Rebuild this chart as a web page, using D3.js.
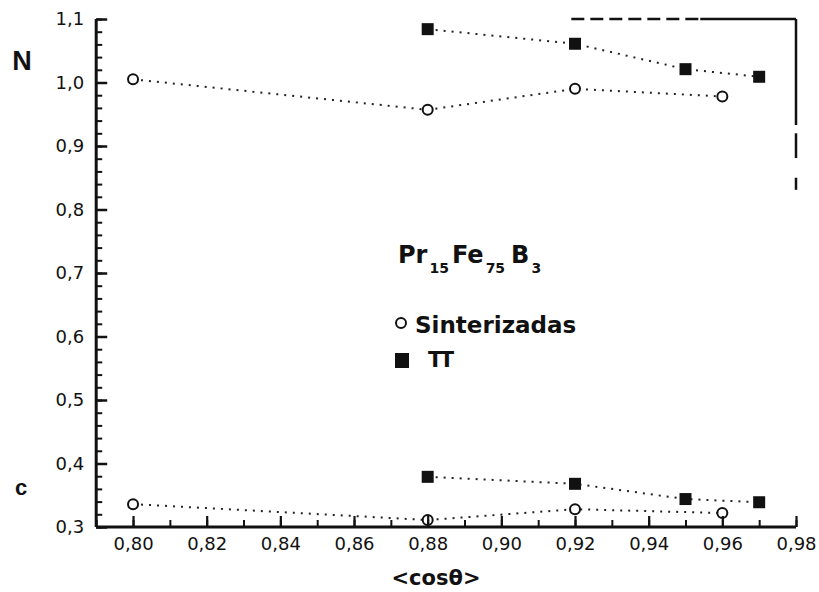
<!DOCTYPE html>
<html>
<head>
<meta charset="utf-8">
<script src="https://cdn.jsdelivr.net/npm/d3@7"></script>
<style>
  html, body { margin: 0; padding: 0; background: #fff; }
  svg { display: block; font-family: "DejaVu Sans", Arial, sans-serif; }
</style>
</head>
<body>
<svg id="chart" width="819" height="592"></svg>
<script>
// cos(theta) values for each sample set
const xSint = [0.80, 0.88, 0.92, 0.96];
const xTT = [0.88, 0.92, 0.95, 0.97];

// N (upper curves) and c (lower curves)
const nSint = [1.005, 0.957, 0.990, 0.978];
const nTT = [1.084, 1.061, 1.021, 1.009];
const cSint = [0.336, 0.311, 0.328, 0.322];
const cTT = [0.379, 0.368, 0.344, 0.339];

const xMajorTicks = [0.80, 0.82, 0.84, 0.86, 0.88, 0.90, 0.92, 0.94, 0.96, 0.98];
const yMajorTicks = [0.3, 0.4, 0.5, 0.6, 0.7, 0.8, 0.9, 1.0, 1.1];

const INK = "#111";
const svg = d3.select("#chart");
const x = d3.scaleLinear().domain([0.79, 0.98]).range([96.2, 796]);
const y = d3.scaleLinear().domain([0.3, 1.1]).range([527, 19]);

const comma = f => v => d3.format(f)(v).replace(".", ",");

function styleAxis(g, width) {
  g.selectAll("line").style("stroke", INK).style("stroke-width", width);
  g.selectAll("path").style("stroke", INK).style("stroke-width", 3);
  g.selectAll("text").style("font-family", "'DejaVu Sans', Arial, sans-serif")
    .style("font-size", "18px").style("fill", INK);
}

// dotted connectors
const line = d3.line().x(d => x(d[0])).y(d => y(d[1]));
const series = [
  { xs: xSint, ys: nSint, shape: "circle" },
  { xs: xTT, ys: nTT, shape: "square" },
  { xs: xSint, ys: cSint, shape: "circle" },
  { xs: xTT, ys: cTT, shape: "square" }
];
series.forEach(s => {
  const pts = s.xs.map((v, i) => [v, s.ys[i]]);
  svg.append("path").attr("d", line(pts))
    .style("fill", "none").style("stroke", "#222").style("stroke-width", 2)
    .style("stroke-dasharray", "2,6");
});

// markers
series.forEach(s => {
  const pts = s.xs.map((v, i) => [v, s.ys[i]]);
  if (s.shape === "circle") {
    svg.append("g").selectAll("circle").data(pts).join("circle")
      .attr("cx", d => x(d[0])).attr("cy", d => y(d[1])).attr("r", 5)
      .style("fill", "#fff").style("stroke", INK).style("stroke-width", 2);
  } else {
    svg.append("g").selectAll("rect").data(pts).join("rect")
      .attr("x", d => x(d[0]) - 6).attr("y", d => y(d[1]) - 6)
      .attr("width", 12).attr("height", 12).style("fill", INK);
  }
});

// minor ticks every 0.01 on x and 0.02 on y
const xMinor = d3.range(0.79, 0.9801, 0.01).map(v => +v.toFixed(2));
const yMinor = d3.range(0.3, 1.1001, 0.02).map(v => +v.toFixed(2));

svg.append("g").attr("transform", `translate(0,${y(0.3)})`)
  .call(d3.axisBottom(x).tickValues(xMinor).tickSize(-7).tickFormat(""))
  .call(g => g.select(".domain").remove())
  .call(g => styleAxis(g, 2));
svg.append("g").attr("transform", `translate(${x(0.79)},0)`)
  .call(d3.axisLeft(y).tickValues(yMinor).tickSize(-6).tickFormat(""))
  .call(g => g.select(".domain").remove())
  .call(g => styleAxis(g, 2));

// major ticks and labels
svg.append("g").attr("transform", `translate(0,${y(0.3)})`)
  .call(d3.axisBottom(x).tickValues(xMajorTicks).tickSize(-11).tickSizeOuter(0)
    .tickPadding(10).tickFormat(comma(".2f")))
  .call(g => g.select(".domain").attr("d", `M${x(0.79)},0H${x(0.98)}`))
  .call(g => styleAxis(g, 2.2));

svg.append("g").attr("transform", `translate(${x(0.79)},0)`)
  .call(d3.axisLeft(y).tickValues(yMajorTicks).tickSize(-11).tickSizeOuter(0)
    .tickPadding(12).tickFormat(comma(".1f")))
  .call(g => g.select(".domain").attr("d", `M0,${y(1.1)}V${y(0.3)}`))
  .call(g => styleAxis(g, 2.5));

// broken frame on top and right
const frame = svg.append("g").style("stroke", INK).style("stroke-width", 2.5).style("fill", "none");
const frameSegs = [
  { x1: 0.919, x2: 0.954, y1: 1.1, y2: 1.1, dash: "13,6" },
  { x1: 0.954, x2: 0.98, y1: 1.1, y2: 1.1 },
  { x1: 0.98, x2: 0.98, y1: 1.1, y2: 0.933 },
  { x1: 0.98, x2: 0.98, y1: 0.920, y2: 0.881 },
  { x1: 0.98, x2: 0.98, y1: 0.850, y2: 0.831 }
];
frame.selectAll("line").data(frameSegs).join("line")
  .attr("x1", d => x(d.x1)).attr("x2", d => x(d.x2))
  .attr("y1", d => y(d.y1)).attr("y2", d => y(d.y2))
  .style("stroke-dasharray", d => d.dash || null);

// axis titles
svg.append("text").attr("x", 22).attr("y", 70).attr("text-anchor", "middle")
  .style("font-family", "Arial, 'Liberation Sans', sans-serif")
  .style("font-size", "27px").style("font-weight", "bold").style("fill", INK).text("N");
svg.append("text").attr("x", 21).attr("y", 495).attr("text-anchor", "middle")
  .style("font-family", "Arial, 'Liberation Sans', sans-serif")
  .style("font-size", "22px").style("font-weight", "bold").style("fill", INK).text("c");
svg.append("text").attr("x", 436).attr("y", 585).attr("text-anchor", "middle")
  .style("font-size", "21px").style("font-weight", "bold").style("fill", INK).text("<cosθ>");

// legend: alloy formula with subscripts
const title = svg.append("text").attr("x", 398).attr("y", 263)
  .style("font-size", "24px").style("font-weight", "bold").style("fill", INK);
const parts = [
  { t: "Pr", sub: false, dx: 0 }, { t: "15", sub: true, dx: 2 },
  { t: "Fe", sub: false, dx: 3 }, { t: "75", sub: true, dx: 2 },
  { t: "B", sub: false, dx: 6 }, { t: "3", sub: true, dx: 2 }
];
parts.forEach((p, i) => {
  const ts = title.append("tspan").attr("dx", p.dx).text(p.t);
  if (p.sub) ts.attr("dy", 10).style("font-size", "14px");
  else if (i > 0) ts.attr("dy", -10);
});

svg.append("circle").attr("cx", 401).attr("cy", 323).attr("r", 5)
  .style("fill", "#fff").style("stroke", INK).style("stroke-width", 2);
svg.append("text").attr("x", 415).attr("y", 333)
  .style("font-size", "23px").style("font-weight", "bold").style("fill", INK).text("Sinterizadas");
svg.append("rect").attr("x", 395).attr("y", 353).attr("width", 14).attr("height", 15).style("fill", INK);
svg.append("text").attr("x", 428).attr("y", 367).style("letter-spacing", "-3px")
  .style("font-size", "21px").style("font-weight", "bold").style("fill", INK).text("TT");
</script>
</body>
</html>
